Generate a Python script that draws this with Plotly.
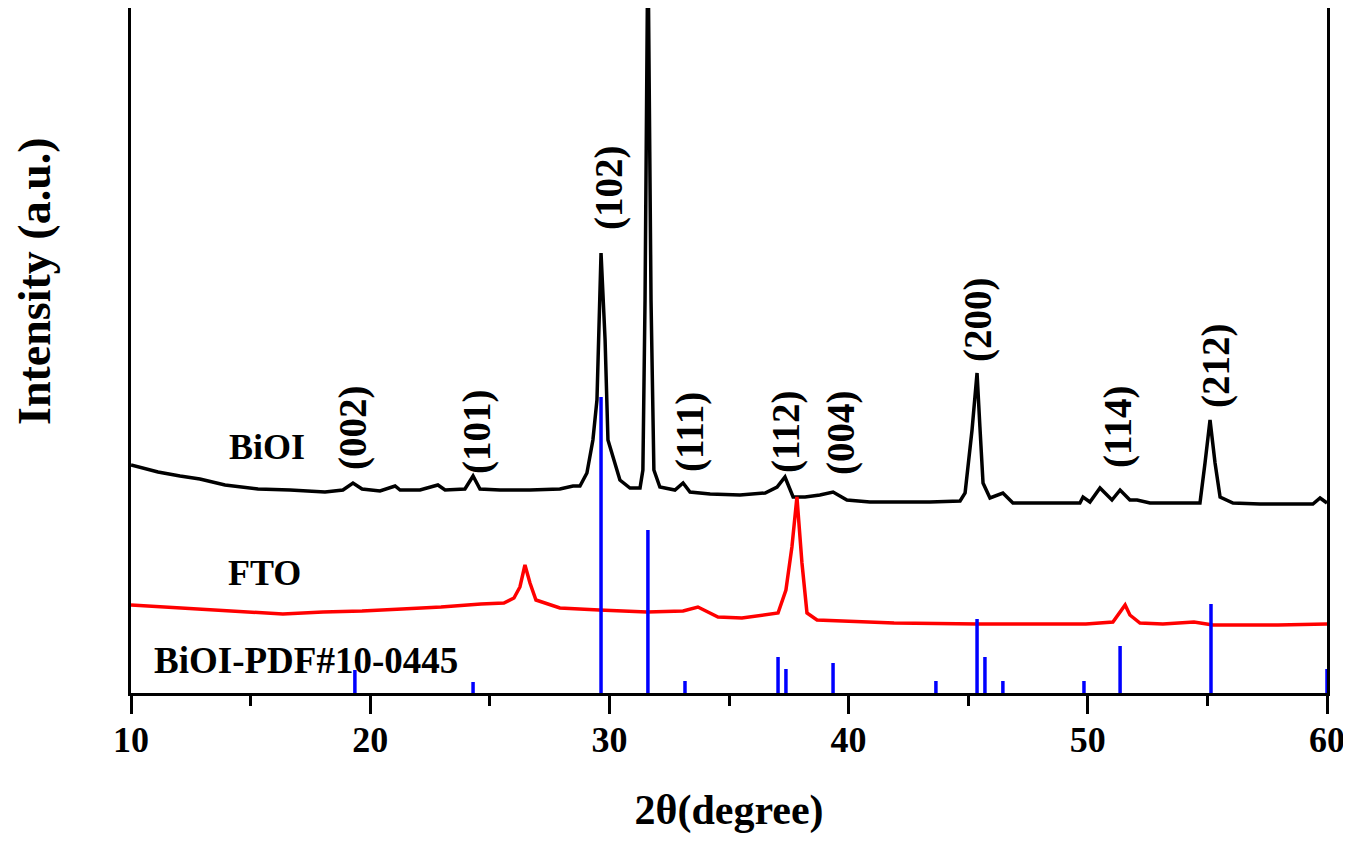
import plotly.graph_objects as go

# BiOI film pattern (2theta in degrees, intensity in a.u.)
biOI_theta = [10.00, 10.59, 11.13, 12.05, 12.88, 13.93, 15.31, 16.65, 18.11, 18.86,
              19.28, 19.66, 20.41, 21.04, 21.25, 22.08, 22.83, 23.13, 23.96, 24.30,
              24.59, 25.43, 26.68, 27.93, 28.48, 28.77, 29.06, 29.31, 29.48, 29.65,
              29.82, 29.94, 30.15, 30.44, 30.86, 31.28, 31.40, 31.49, 31.61, 31.74,
              31.86, 32.11, 32.74, 33.08, 33.37, 34.21, 35.46, 36.51, 37.01, 37.34,
              37.68, 38.18, 38.80, 39.35, 39.93, 40.89, 42.15, 43.40, 44.66, 44.87,
              45.16, 45.37, 45.49, 45.62, 45.91, 46.45, 46.87, 48.00, 49.26, 49.67,
              49.80, 50.09, 50.51, 51.01, 51.35, 51.76, 52.06, 52.60, 53.65, 54.69,
              54.90, 55.11, 55.32, 55.53, 56.07, 57.20, 58.45, 59.41, 59.71, 60.00]
biOI_int = [228, 224, 221, 217, 214, 208, 204, 203, 201, 203,
            210, 204, 202, 207, 203, 203, 208, 203, 204, 217,
            204, 203, 203, 204, 207, 207, 220, 253, 293, 440,
            353, 253, 236, 213, 205, 205, 223, 393, 760, 393,
            223, 206, 203, 210, 201, 199, 198, 200, 206, 216,
            196, 196, 198, 201, 193, 191, 191, 191, 192, 200,
            263, 320, 266, 210, 195, 200, 190, 190, 190, 190,
            196, 191, 205, 193, 203, 193, 193, 190, 190, 190,
            230, 273, 230, 196, 190, 189, 189, 189, 195, 190]

# FTO substrate pattern
fto_theta = [10.00, 11.38, 13.05, 14.72, 16.35, 18.03, 19.66, 21.33, 22.96, 24.63,
             25.59, 26.01, 26.26, 26.47, 26.68, 26.93, 27.93, 29.57, 31.57, 33.08,
             33.70, 34.54, 35.54, 37.05, 37.38, 37.63, 37.84, 38.05, 38.26, 38.68,
             41.90, 45.41, 49.92, 51.05, 51.39, 51.56, 51.76, 52.18, 53.14, 54.44,
             55.23, 57.95, 60.00]
fto_int = [88, 86, 83, 81, 79, 81, 82, 84, 86, 89,
           90, 95, 106, 128, 110, 93, 85, 83, 81, 82,
           86, 76, 75, 80, 103, 146, 196, 130, 80, 73,
           70, 69, 69, 71, 83, 88, 78, 70, 69, 71,
           68, 68, 69]

# standard card BiOI PDF#10-0445
pdf_theta = [19.36, 24.30, 29.65, 31.61, 33.16, 37.05, 37.38, 39.35,
             43.65, 45.37, 45.70, 46.45, 49.84, 51.35, 55.15, 60.00]
pdf_int = [23, 11, 296, 163, 12, 36, 24, 30,
           12, 74, 36, 12, 12, 47, 89, 24]

# (hkl) labels
hkl_text = ["(002)", "(101)", "(102)", "(111)", "(112)", "(004)", "(200)", "(114)", "(212)"]
hkl_x = [19.28, 24.46, 29.98, 33.37, 37.38, 39.68, 45.41, 51.26, 55.36]
hkl_y = [265, 261, 505, 261, 261, 260, 373, 266, 327]

FONT = "Times New Roman, Liberation Serif, serif"

# sticks for the reference card
stick_x, stick_y = [], []
for t, h in zip(pdf_theta, pdf_int):
    stick_x += [t, t, None]
    stick_y += [0, h, None]

fig = go.Figure()
fig.add_trace(go.Scatter(x=biOI_theta, y=biOI_int, mode="lines",
                         line=dict(color="black", width=3.5), name="BiOI"))
fig.add_trace(go.Scatter(x=fto_theta, y=fto_int, mode="lines",
                         line=dict(color="#ff0000", width=3.5), name="FTO"))
fig.add_trace(go.Scatter(x=stick_x, y=stick_y, mode="lines",
                         line=dict(color="#0000ff", width=3.5), name="PDF"))

for txt, x, y in zip(hkl_text, hkl_x, hkl_y):
    fig.add_annotation(x=x, y=y, text=txt, textangle=-90, showarrow=False,
                       font=dict(family=FONT, size=39, color="black", weight="bold"))

fig.add_annotation(x=15.69, y=246, text="BiOI", showarrow=False,
                   font=dict(family=FONT, size=36, color="black", weight="bold"))
fig.add_annotation(x=15.60, y=120, text="FTO", showarrow=False,
                   font=dict(family=FONT, size=36, color="black", weight="bold"))
fig.add_annotation(x=10.88, y=33, text="BiOI-PDF#10-0445", showarrow=False, xanchor="left",
                   font=dict(family=FONT, size=37, color="black", weight="bold"))

# y title as a rotated annotation (it sits above the plot's middle)
fig.add_annotation(xref="paper", yref="paper", x=0, y=0.6015, xshift=-96,
                   xanchor="center", yanchor="middle",
                   text="Intensity (a.u.)", textangle=-90, showarrow=False,
                   font=dict(family=FONT, size=46, color="black", weight="bold"))

fig.update_xaxes(range=[10, 60], tickvals=[10, 20, 30, 40, 50, 60],
                 ticks="outside", ticklen=18, tickwidth=3, tickcolor="black",
                 minor=dict(ticks="outside", ticklen=10, tickwidth=3, tickcolor="black",
                            tickvals=[15, 25, 35, 45, 55]),
                 showline=True, linewidth=3, linecolor="black", showgrid=False, zeroline=False,
                 tickfont=dict(family=FONT, size=36, color="black", weight="bold"),
                 ticklabelstandoff=-5,
                 title=dict(text="2θ(degree)", standoff=36,
                            font=dict(family=FONT, size=42, color="black", weight="bold")))
fig.update_yaxes(range=[0, 685], showticklabels=False, ticks="",
                 showline=True, mirror=True, linewidth=3, linecolor="black",
                 showgrid=False, zeroline=False)

fig.update_layout(width=1343, height=837, showlegend=False,
                  margin=dict(l=123, r=24, t=0, b=152),
                  plot_bgcolor="white", paper_bgcolor="white")

fig.write_html("out.html")
